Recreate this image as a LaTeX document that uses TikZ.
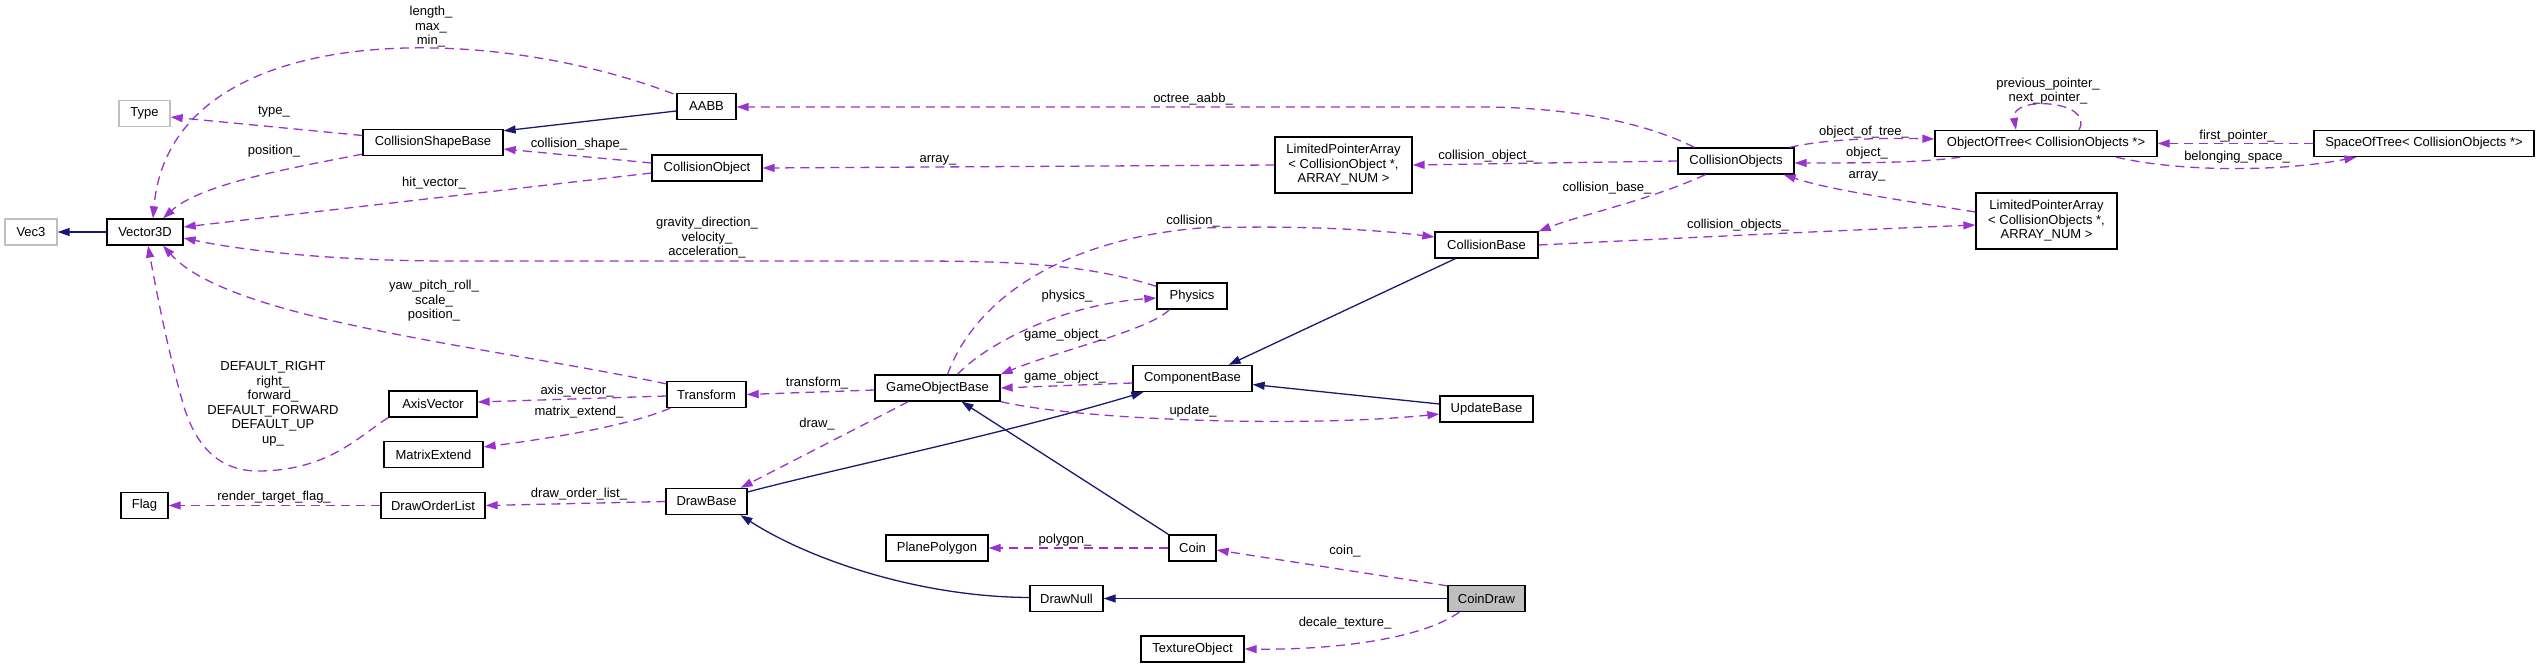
\documentclass[tikz,border=0pt]{standalone}
\usepackage{fontspec}
\setmainfont{Liberation Sans}
\usetikzlibrary{arrows.meta,calc}
\definecolor{navyc}{RGB}{25,25,112}
\definecolor{purp}{RGB}{154,50,205}
\definecolor{greyb}{RGB}{191,191,191}
\newcommand\nf{\fontsize{13}{14.5}\selectfont}
\begin{document}
\begin{tikzpicture}[x=1pt,y=-1pt,
 cls/.style={draw=black,line width=1.3pt,fill=white,minimum height=26pt,inner sep=0pt,font=\nf,align=center},
 lbl/.style={font=\nf,inner sep=0pt,align=center},
 inh/.style={draw=navyc,line width=1.3pt,-{Triangle[length=12pt,width=8pt]}},
 use/.style={draw=purp,line width=1.3pt,dash pattern=on 9pt off 6pt,-{Triangle[length=12pt,width=8pt]}}]
\useasboundingbox (0,0) rectangle (2540,668);
% classes
\node[cls,minimum width=52pt,draw=greyb] (vec3) at (31,232) {Vec3};
\node[cls,minimum width=76pt] (v3d) at (145,232) {Vector3D};
\node[cls,minimum width=51pt,draw=greyb] (type) at (144.5,113.5) {Type};
\node[cls,minimum width=140pt] (csb) at (433,142.5) {CollisionShapeBase};
\node[cls,minimum width=59pt] (aabb) at (706.5,106.5) {AABB};
\node[cls,minimum width=110pt] (cobj) at (707,168) {CollisionObject};
\node[cls,minimum width=88pt] (axv) at (433,404) {AxisVector};
\node[cls,minimum width=99pt] (mext) at (433.5,454.5) {MatrixExtend};
\node[cls,minimum width=79pt] (trans) at (706.5,394.5) {Transform};
\node[cls,minimum width=47pt] (flag) at (144.5,505.5) {Flag};
\node[cls,minimum width=104pt] (dol) at (433,505.5) {DrawOrderList};
\node[cls,minimum width=81pt] (dbase) at (706.5,501.5) {DrawBase};
\node[cls,minimum width=137pt,minimum height=56pt] (lpa1) at (1343.5,165) {LimitedPointerArray\\< CollisionObject *,\\ ARRAY\_NUM >};
\node[cls,minimum width=103pt] (cbase) at (1486.5,245) {CollisionBase};
\node[cls,minimum width=70pt] (phys) at (1192,296) {Physics};
\node[cls,minimum width=125pt] (gob) at (937.5,388) {GameObjectBase};
\node[cls,minimum width=119pt] (compb) at (1192.5,378.5) {ComponentBase};
\node[cls,minimum width=93pt] (ubase) at (1486.5,409) {UpdateBase};
\node[cls,minimum width=102pt] (ppoly) at (937,548) {PlanePolygon};
\node[cls,minimum width=47pt] (coin) at (1192.5,548) {Coin};
\node[cls,minimum width=73pt] (dnull) at (1066.5,598.5) {DrawNull};
\node[cls,minimum width=77pt,fill=greyb] (cdraw) at (1486.5,598.5) {CoinDraw};
\node[cls,minimum width=103pt] (texo) at (1192.5,649) {TextureObject};
\node[cls,minimum width=116pt] (cobjs) at (1736,161) {CollisionObjects};
\node[cls,minimum width=222pt] (oot) at (2046,143.5) {ObjectOfTree< CollisionObjects *>};
\node[cls,minimum width=220pt] (sot) at (2424,143.5) {SpaceOfTree< CollisionObjects *>};
\node[cls,minimum width=141pt,minimum height=56pt] (lpa2) at (2046.5,221) {LimitedPointerArray\\< CollisionObjects *,\\ ARRAY\_NUM >};
% inheritance
\draw[inh] (v3d.west) -- (vec3.east);
\draw[inh] ($(aabb.west)+(0,4.5)$) -- ($(csb.north east)+(0,2)$);
\draw[inh] ($(cbase.south west)+(21,0)$) -- ($(compb.north east)+(-24,0)$);
\draw[inh] ($(ubase.west)+(0,-5)$) -- ($(compb.east)+(0,6)$);
\draw[inh] ($(dbase.east)+(0,-9.5)$) .. controls (830,470) and (1000,435) .. ($(compb.south west)+(11,0)$);
\draw[inh] (coin.north west) -- ($(gob.south)+(24,0)$);
\draw[inh] ($(dnull.west)+(0,-1)$) .. controls (920,597) and (810,560) .. ($(dbase.south)+(34,0)$);
\draw[inh] (cdraw.west) -- (dnull.east);
% usage
\draw[use] ($(aabb.north west)+(-3,1)$) .. controls (480,20) and (170,20) .. ($(v3d.north)+(8,0)$);
\draw[use] ($(csb.west)+(0,-7)$) -- ($(type.east)+(0,3.5)$);
\draw[use] ($(csb.south west)+(0,-2)$) .. controls (280,170) and (200,185) .. ($(v3d.north)+(18,0)$);
\draw[use] ($(cobj.west)+(0,-5)$) -- ($(csb.east)+(0,6.5)$);
\draw[use] ($(cobj.west)+(0,5)$) -- ($(v3d.east)+(0,-5)$);
\draw[use] ($(phys.north west)+(0,4)$) .. controls (1080,262) and (1000,261) .. (900,261) -- (450,261) .. controls (330,261) and (240,250) .. ($(v3d.east)+(0,6)$);
\draw[use] ($(trans.north west)+(0,3)$) .. controls (480,345) and (230,320) .. ($(v3d.south)+(18,0)$);
\draw[use] (axv.south west) .. controls (360,435) and (330,470) .. (260,471) .. controls (215,472) and (195,440) .. (185,410) .. controls (170,360) and (158,300) .. ($(v3d.south)+(3,0)$);
\draw[use] ($(trans.west)+(0,1.5)$) -- ($(axv.east)+(0,-2)$);
\draw[use] ($(trans.south west)+(4,0)$) .. controls (630,425) and (560,437) .. ($(mext.east)+(0,-7.5)$);
\draw[use] (dol.west) -- (flag.east);
\draw[use] (dbase.west) -- (dol.east);
\draw[use] ($(gob.west)+(0,2)$) -- (trans.east);
\draw[use] ($(gob.south west)+(34,0)$) -- ($(dbase.north east)+(-7,0)$);
\draw[use] ($(phys.south west)+(13,0)$) .. controls (1150,330) and (1060,350) .. (gob.north east);
\draw[use] ($(gob.north)+(20,0)$) .. controls (985,345) and (1060,305) .. ($(phys.west)+(0,2)$);
\draw[use] ($(gob.north)+(10,0)$) .. controls (975,300) and (1060,240) .. (1200,228) .. controls (1300,225) and (1380,230) .. ($(cbase.west)+(0,-8)$);
\draw[use] ($(compb.west)+(0,4.5)$) -- (gob.east);
\draw[use] (gob.south east) .. controls (1080,420) and (1300,428) .. ($(ubase.west)+(0,5)$);
\draw[use] (coin.west) -- (ppoly.east);
\draw[use] ($(cdraw.north west)+(0,1)$) -- ($(coin.east)+(0,2)$);
\draw[use] ($(cdraw.south west)+(12,0)$) .. controls (1420,640) and (1330,650) .. (texo.east);
\draw[use] ($(cobjs.north west)+(17,0)$) .. controls (1640,120) and (1560,107) .. (1480,107) -- ($(aabb.east)+(0,0.5)$);
\draw[use] (lpa1.west) -- (cobj.east);
\draw[use] (cobjs.west) -- (lpa1.east);
\draw[use] ($(cobjs.south west)+(28,0)$) .. controls (1650,200) and (1580,215) .. (cbase.north east);
\draw[use] (cbase.east) .. controls (1700,237) and (1850,230) .. ($(lpa2.west)+(0,4)$);
\draw[use] ($(lpa2.west)+(0,-9)$) .. controls (1900,200) and (1830,190) .. ($(cobjs.south east)+(-11,0)$);
\draw[use] ($(cobjs.north east)+(-5,0)$) .. controls (1830,138) and (1890,138) .. ($(oot.west)+(0,-4.5)$);
\draw[use] ($(oot.south west)+(26,0)$) .. controls (1920,163) and (1860,163) .. ($(cobjs.east)+(0,2)$);
\draw[use] ($(oot.north)+(33,0)$) .. controls (2095,100) and (2010,95) .. ($(oot.north)+(-30,0)$);
\draw[use] (sot.west) -- (oot.east);
\draw[use] ($(oot.south)+(70,0)$) .. controls (2180,172) and (2280,172) .. ($(sot.south west)+(43,0)$);
% labels
\node[lbl] (l1) at (431,27) {length\_\\max\_\\min\_};
\node[lbl] (l2) at (274,112) {type\_};
\node[lbl] (l3) at (274,151) {position\_};
\node[lbl] (l4) at (579,144) {collision\_shape\_};
\node[lbl] (l5) at (434,183) {hit\_vector\_};
\node[lbl] (l6) at (707,238) {gravity\_direction\_\\velocity\_\\acceleration\_};
\node[lbl] (l7) at (434,301) {yaw\_pitch\_roll\_\\scale\_\\position\_};
\node[lbl] (l8) at (273,404) {DEFAULT\_RIGHT\\right\_\\forward\_\\DEFAULT\_FORWARD\\DEFAULT\_UP\\up\_};
\node[lbl] (l9) at (577,391) {axis\_vector\_};
\node[lbl] (l10) at (579,412) {matrix\_extend\_};
\node[lbl] (l11) at (274,497) {render\_target\_flag\_};
\node[lbl] (l12) at (579,494) {draw\_order\_list\_};
\node[lbl] (l13) at (1193,99) {octree\_aabb\_};
\node[lbl] (l14) at (938,160) {array\_};
\node[lbl] (l15) at (1486,156) {collision\_object\_};
\node[lbl] (l16) at (1607,188) {collision\_base\_};
\node[lbl] (l17) at (1193,221) {collision\_};
\node[lbl] (l18) at (1067,296) {physics\_};
\node[lbl] (l19) at (1065,335) {game\_object\_};
\node[lbl] (l20) at (1065,377) {game\_object\_};
\node[lbl] (l21) at (817,383) {transform\_};
\node[lbl] (l22) at (817,424) {draw\_};
\node[lbl] (l23) at (1193,411) {update\_};
\node[lbl] (l24) at (1065,540) {polygon\_};
\node[lbl] (l25) at (1345,551) {coin\_};
\node[lbl] (l26) at (1345,623) {decale\_texture\_};
\node[lbl] (l27) at (2048,91) {previous\_pointer\_\\next\_pointer\_};
\node[lbl] (l28) at (1864,132) {object\_of\_tree\_};
\node[lbl] (l29) at (1867,153) {object\_};
\node[lbl] (l30) at (1867,176) {array\_};
\node[lbl] (l31) at (2237,136) {first\_pointer\_};
\node[lbl] (l32) at (2237,157) {belonging\_space\_};
\node[lbl] (l33) at (1738,225) {collision\_objects\_};
\end{tikzpicture}
\end{document}
